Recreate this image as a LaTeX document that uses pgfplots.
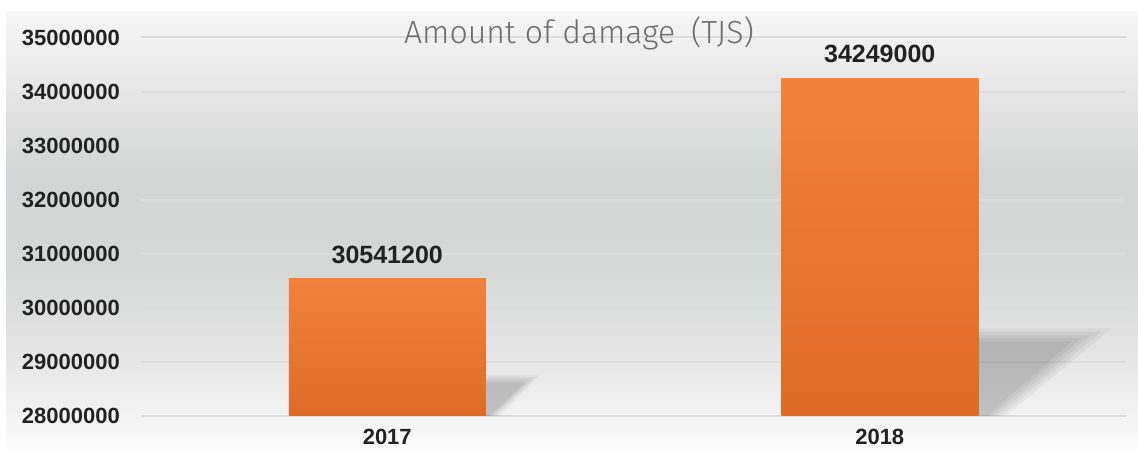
\documentclass[border=0pt]{standalone}
\usepackage{pgfplots}
\pgfplotsset{compat=1.18}
\usepackage{fontspec}
\setmainfont{Liberation Sans}
\newfontfamily\titlefont{Fira Sans Light}
\definecolor{bg0}{HTML}{FBFBFB}
\definecolor{bg1}{HTML}{F4F4F4}
\definecolor{bg2}{HTML}{E4E4E4}
\definecolor{bg3}{HTML}{D6D7D7}
\definecolor{bg4}{HTML}{D4D5D5}
\definecolor{bg5}{HTML}{E4E4E4}
\definecolor{bg6}{HTML}{F6F6F6}
\definecolor{gridc}{HTML}{DCDCDC}
\definecolor{bartop}{HTML}{F2823C}
\definecolor{barbot}{HTML}{DF6A27}
\definecolor{titlegray}{HTML}{6E6E6E}
\definecolor{labc}{HTML}{222222}
\pgfdeclareverticalshading{bgshade}{100bp}{color(0bp)=(bg0); color(25bp)=(bg0); color(28.3bp)=(bg1); color(36.3bp)=(bg2); color(45.5bp)=(bg3); color(56.9bp)=(bg4); color(64.9bp)=(bg5); color(75bp)=(bg6); color(100bp)=(bg6)}
\begin{document}
\begin{tikzpicture}[x=1pt,y=1pt]
\useasboundingbox (0,0) rectangle (1138,449);
\clip (0,0) rectangle (1138,449);
\fill[white] (0,0) rectangle (1138,449);
\shade[shading=bgshade] (6,0) rectangle (1138,437);
\begin{axis}[
  at={(141pt,33pt)}, anchor=south west,
  scale only axis, width=985pt, height=378.5pt,
  xmin=-0.5, xmax=1.5, ymin=28000000, ymax=35000000,
  scaled y ticks=false,
  ytick={28000000,29000000,30000000,31000000,32000000,33000000,34000000,35000000},
  yticklabels={28000000,29000000,30000000,31000000,32000000,33000000,34000000,35000000},
  xtick={0,1}, xticklabels={2017,2018},
  axis line style={draw=none}, major tick length=0pt,
  ymajorgrids, grid style={color=gridc, line width=2pt},
  tick label style={font=\fontsize{22}{26}\selectfont\bfseries, text=labc},
  yticklabel style={anchor=east, inner sep=0pt, xshift=-21pt},
  xticklabel style={anchor=north, inner sep=0pt, yshift=-13pt},
  clip=true,
]
% shadows (soft, layered)
\addplot[draw=none, fill=black, fill opacity=0.045] coordinates {(0.2,28000000) (0.2,28760000) (0.310,28760000) (0.228,28000000)} \closedcycle;
\addplot[draw=none, fill=black, fill opacity=0.045] coordinates {(0.2,28000000) (0.2,28720000) (0.300,28720000) (0.222,28000000)} \closedcycle;
\addplot[draw=none, fill=black, fill opacity=0.045] coordinates {(0.2,28000000) (0.2,28680000) (0.292,28680000) (0.216,28000000)} \closedcycle;
\addplot[draw=none, fill=black, fill opacity=0.045] coordinates {(0.2,28000000) (0.2,28640000) (0.284,28640000) (0.211,28000000)} \closedcycle;
\addplot[draw=none, fill=black, fill opacity=0.045] coordinates {(0.2,28000000) (0.2,28600000) (0.276,28600000) (0.207,28000000)} \closedcycle;
\addplot[draw=none, fill=black, fill opacity=0.045] coordinates {(1.2,28000000) (1.2,29620000) (1.470,29620000) (1.256,28000000)} \closedcycle;
\addplot[draw=none, fill=black, fill opacity=0.045] coordinates {(1.2,28000000) (1.2,29560000) (1.450,29560000) (1.245,28000000)} \closedcycle;
\addplot[draw=none, fill=black, fill opacity=0.045] coordinates {(1.2,28000000) (1.2,29500000) (1.430,29500000) (1.235,28000000)} \closedcycle;
\addplot[draw=none, fill=black, fill opacity=0.045] coordinates {(1.2,28000000) (1.2,29440000) (1.410,29440000) (1.226,28000000)} \closedcycle;
\addplot[draw=none, fill=black, fill opacity=0.045] coordinates {(1.2,28000000) (1.2,29380000) (1.390,29380000) (1.218,28000000)} \closedcycle;
% bars
\addplot[draw=none, top color=bartop, bottom color=barbot] coordinates {(-0.2,28000000) (-0.2,30541200) (0.2,30541200) (0.2,28000000)} -- cycle;
\addplot[draw=none, top color=bartop, bottom color=barbot] coordinates {(0.8,28000000) (0.8,34249000) (1.2,34249000) (1.2,28000000)} -- cycle;
% value labels
\addplot[only marks, mark=none, draw=none,
  point meta=explicit symbolic,
  nodes near coords,
  every node near coord/.append style={font=\fontsize{25}{30}\selectfont\bfseries, text=labc, anchor=south, inner sep=0pt, yshift=15pt}]
  coordinates {(0,30541200) [30541200] (1,34249000) [34249000]};
\end{axis}
\node[anchor=base, text=titlegray, font=\titlefont\fontsize{32}{38}\selectfont] at (579,405) {Amount of damage\hspace{0.5em}(TJS)};
\end{tikzpicture}
\end{document}
